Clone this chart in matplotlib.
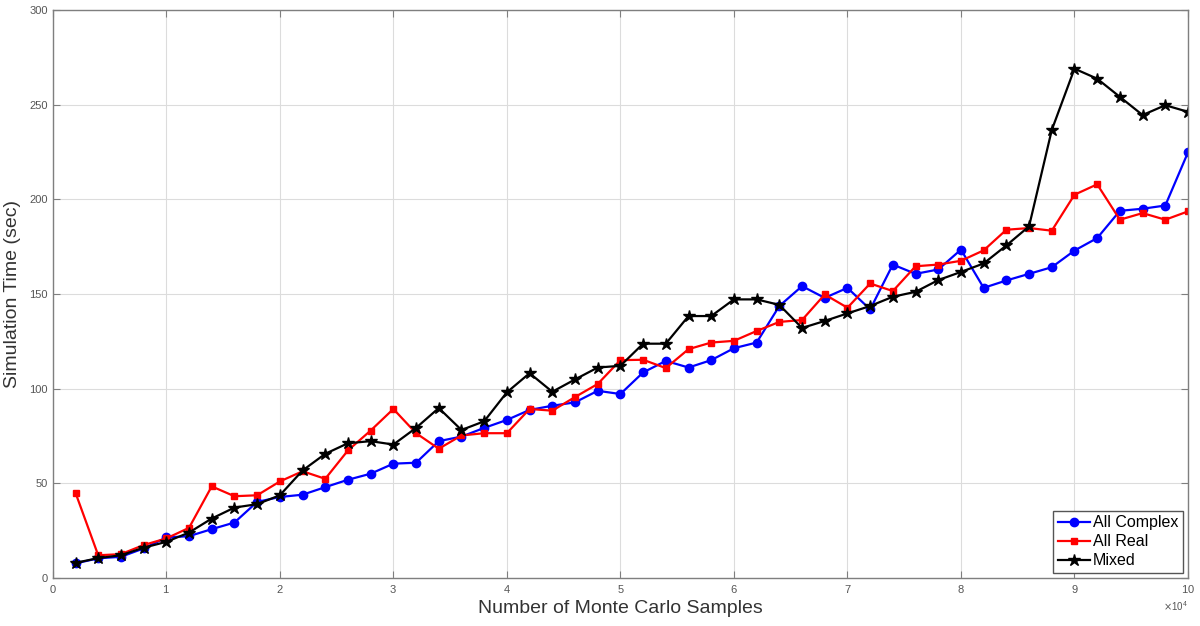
import numpy as np
import matplotlib.pyplot as plt
from matplotlib.ticker import ScalarFormatter

samples = np.arange(2000, 100001, 2000)

all_complex = [7.7, 10.4, 11.2, 15.6, 21.4, 22.1, 25.8, 29.3, 40.2, 42.8,
               44.0, 48.0, 51.9, 55.1, 60.4, 60.9, 72.3, 74.7, 79.3, 83.5,
               88.8, 91.0, 92.8, 98.9, 97.2, 108.6, 114.7, 111.2, 115.1, 121.4,
               124.4, 143.7, 154.2, 148.0, 153.3, 141.9, 165.6, 160.7, 163.0, 173.5,
               153.3, 157.2, 160.7, 164.2, 173.0, 179.6, 194.0, 195.1, 196.8, 224.9]

all_real = [45.0, 12.0, 12.6, 17.4, 20.9, 26.5, 48.4, 43.2, 43.7, 51.0,
            56.4, 52.4, 67.4, 77.9, 89.3, 76.5, 68.3, 75.3, 76.5, 76.5,
            89.3, 88.4, 95.6, 102.5, 115.1, 115.3, 110.9, 120.9, 124.4, 125.3,
            130.5, 135.3, 136.3, 149.8, 142.8, 155.6, 151.6, 164.7, 165.6, 167.6,
            173.1, 184.0, 184.9, 183.5, 202.5, 208.0, 189.3, 192.8, 189.3, 193.7]

mixed = [8.0, 10.5, 12.0, 16.0, 19.1, 24.0, 31.4, 37.2, 39.0, 43.7,
         56.8, 65.6, 71.2, 72.3, 70.5, 79.3, 89.8, 78.2, 82.8, 98.1,
         108.2, 98.4, 104.9, 111.2, 112.1, 123.8, 123.8, 138.4, 138.4, 147.2,
         147.2, 144.3, 132.1, 135.8, 139.8, 143.7, 148.6, 151.2, 157.4, 161.7,
         166.2, 175.7, 185.8, 236.7, 269.1, 263.8, 254.2, 244.6, 249.8, 246.3]

plt.rcParams['font.family'] = ['Liberation Sans', 'DejaVu Sans']

fig = plt.figure(figsize=(12, 6.26), dpi=100)
ax = fig.add_axes([0.044, 0.0767, 0.946, 0.907])

ax.plot(samples, all_complex, '-o', color='#0000ff', lw=1.6, markersize=6, label='All Complex')
ax.plot(samples, all_real, '-s', color='#ff0000', lw=1.6, markersize=4.5, label='All Real')
ax.plot(samples, mixed, '-*', color='black', lw=1.6, markersize=9, label='Mixed')

ax.set_xlim(0, 100000)
ax.set_ylim(0, 300)
ax.set_xticks(np.arange(0, 100001, 10000))
ax.set_yticks(np.arange(0, 301, 50))
fmt = ScalarFormatter(useMathText=True)
fmt.set_powerlimits((4, 4))
ax.xaxis.set_major_formatter(fmt)

ax.grid(True, color='#dcdcdc', lw=0.8)
ax.set_axisbelow(True)
for s in ax.spines.values():
    s.set_color('#7f7f7f')
    s.set_linewidth(1.0)
ax.tick_params(direction='in', length=5, colors='#7f7f7f', labelcolor='#555555',
               labelsize=8, top=True, right=True)
ax.xaxis.get_offset_text().set_fontsize(7)
ax.xaxis.get_offset_text().set_color('#555555')

ax.set_xlabel('Number of Monte Carlo Samples', fontsize=14, color='#333333', labelpad=4)
ax.set_ylabel('Simulation Time (sec)', fontsize=14, color='#333333', labelpad=6)

leg = ax.legend(loc='lower right', fontsize=11.5, fancybox=False, framealpha=1,
                edgecolor='#555555', borderaxespad=0.3, handlelength=2.0,
                handletextpad=0.2, labelspacing=0.25, borderpad=0.3)
leg.get_frame().set_linewidth(1.0)

fig.savefig('out.png', dpi=100)
